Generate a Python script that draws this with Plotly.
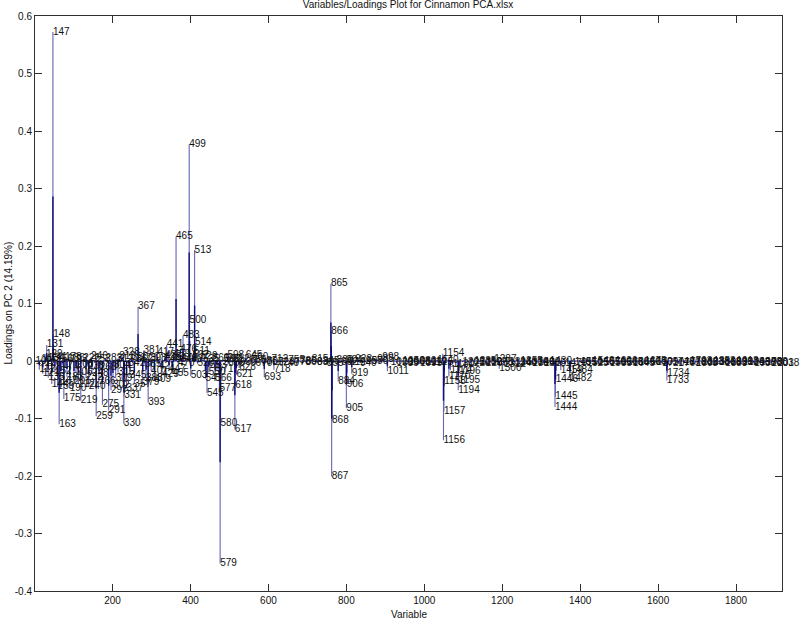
import plotly.graph_objects as go

# labelled loadings: variable name, position on the x axis, loading on PC 2
peak_var = [112, 121, 129, 131, 134, 135, 144, 147, 148, 152,
            159, 163, 167, 175, 178, 183, 190, 201, 206, 212,
            219, 232, 240, 248, 259, 266, 275, 291, 297, 302,
            309, 315, 328, 330, 331, 337, 345, 357, 367, 373,
            379, 381, 388, 393, 401, 409, 417, 429, 437, 441,
            447, 455, 459, 465, 476, 483, 499, 500, 503, 507,
            511, 513, 514, 529, 541, 545, 550, 566, 571, 577,
            579, 580, 592, 598, 617, 618, 621, 628, 645, 660,
            693, 718, 865, 866, 867, 868, 884, 904, 905, 906,
            919, 998, 1011, 1154, 1156, 1157, 1158, 1170, 1174, 1194,
            1195, 1196, 1287, 1300, 1444, 1445, 1446, 1459, 1482, 1484,
            1733, 1734, 2018]
peak_x = [12, 21, 29, 31, 34, 35, 44, 47, 48, 52,
          59, 63, 67, 75, 78, 83, 90, 101, 106, 112,
          118.5, 132, 139, 147, 158, 165, 174, 190, 196, 201,
          208, 214, 227, 229, 230, 236, 244, 256, 265.5, 271.5,
          277.5, 279.5, 286, 291.4, 299, 307.3, 315.2, 327.1, 335, 339.1,
          345, 353, 357, 363, 374, 380.8, 396.7, 397.7, 400.7, 405,
          408.6, 410.6, 411.6, 426.5, 438.4, 442.4, 447, 463.2, 468, 474.2,
          476.1, 477.1, 489.1, 495, 513.9, 514.9, 517.9, 525, 541.7, 557,
          589.4, 614.2, 760.3, 761.3, 762.3, 763.3, 779.1, 799, 800, 801,
          813.9, 892.4, 905.3, 1047.4, 1049.3, 1050.3, 1051.3, 1063.2, 1067.2, 1087.1,
          1088.1, 1089.1, 1179.5, 1192.4, 1335.4, 1336.4, 1337.4, 1350.3, 1373.2, 1375.2,
          1622.5, 1623.5, 1905.6]
peak_load = [-0.015, -0.022, 0.012, 0.028, 0.004, -0.029, -0.040, 0.572, 0.046, -0.018,
             -0.045, -0.110, -0.035, -0.066, 0.006, -0.028, -0.048, -0.035, -0.020, -0.040,
             -0.069, -0.029, -0.045, -0.022, -0.096, -0.035, -0.076, -0.086, -0.051, -0.042,
             -0.030, -0.020, 0.014, -0.109, -0.060, -0.048, -0.025, -0.040, 0.094, 0.004,
             -0.037, 0.018, -0.030, -0.072, -0.018, -0.033, 0.014, -0.024, 0.010, 0.028,
             -0.015, -0.022, 0.012, 0.216, 0.020, 0.044, 0.377, 0.070, -0.026, 0.010,
             0.016, 0.193, 0.032, 0.008, -0.031, -0.056, -0.020, -0.030, -0.015, -0.048,
             -0.352, -0.109, 0.003, 0.010, -0.119, -0.042, -0.024, -0.012, 0.009, 0.006,
             -0.028, -0.015, 0.134, 0.052, -0.201, -0.103, -0.035, 0.001, -0.082, -0.041,
             -0.022, 0.006, -0.018, 0.0125, -0.138, -0.088, -0.035, -0.027, -0.016, -0.051,
             -0.034, -0.018, 0.002, -0.0135, -0.080, -0.062, -0.033, -0.016, -0.030, -0.017,
             -0.034, -0.021, -0.004]

# near-zero variables whose labels pile up along the baseline
band_var = [102, 117, 126, 141, 156, 171, 186, 193, 208, 226,
            238, 246, 253, 268, 283, 304, 312, 318, 342, 350,
            362, 385, 398, 421, 436, 448, 470, 478, 490, 520,
            535, 553, 560, 588, 600, 612, 630, 655, 670, 685,
            700, 712, 728, 740, 755, 770, 785, 800, 815, 830,
            845, 855, 880, 892, 912, 928, 940, 955, 970, 985,
            1020, 1035, 1050, 1065, 1080, 1095, 1110, 1125, 1140, 1180,
            1205, 1220, 1235, 1250, 1265, 1278, 1312, 1326, 1340, 1355,
            1370, 1385, 1400, 1415, 1430, 1470, 1495, 1510, 1525, 1540,
            1555, 1570, 1585, 1600, 1615, 1630, 1645, 1660, 1675, 1690,
            1705, 1720, 1748, 1763, 1778, 1793, 1808, 1823, 1838, 1853,
            1868, 1883, 1898, 1913, 1928, 1943, 1958, 1973, 1988, 2003]
band_x = [2, 17, 26, 41, 56, 71, 86, 93, 108, 125,
          137, 145, 152, 167, 182, 203, 211, 217, 241, 249,
          261, 283, 296, 319, 334, 346, 368, 376, 388, 418,
          432, 450, 457, 485, 497, 509, 527, 552, 567, 581,
          596, 608, 624, 636, 651, 666, 681, 696, 711, 725,
          740, 750, 775, 787, 807, 823, 835, 850, 865, 879,
          914, 929, 944, 959, 974, 989, 1004, 1019, 1033, 1073,
          1098, 1113, 1128, 1143, 1158, 1171, 1204, 1218, 1232, 1247,
          1262, 1277, 1292, 1307, 1322, 1361, 1386, 1401, 1416, 1431,
          1446, 1461, 1476, 1490, 1505, 1520, 1535, 1550, 1565, 1580,
          1595, 1610, 1637, 1652, 1667, 1682, 1697, 1712, 1727, 1742,
          1757, 1772, 1786, 1801, 1816, 1831, 1846, 1861, 1876, 1891]
band_load = [0.000, 0.003, -0.004, 0.006, 0.002, -0.008, 0.005, 0.003, -0.006, 0.004,
             -0.010, 0.007, 0.002, -0.012, 0.005, -0.007, 0.003, 0.008, -0.005, 0.006,
             0.002, -0.006, 0.004, -0.009, 0.006, 0.003, -0.004, 0.005, 0.002, -0.005,
             0.003, -0.008, 0.004, 0.002, -0.005, 0.003, -0.002, 0.001, -0.004, 0.000,
             -0.003, 0.002, -0.002, -0.004, 0.001, -0.003, 0.000, -0.002, 0.002, -0.003,
             -0.001, -0.004, 0.001, -0.002, -0.003, 0.002, -0.004, -0.001, 0.000, 0.003,
             -0.002, -0.004, -0.001, -0.003, 0.000, -0.005, -0.002, -0.003, 0.001, -0.006,
             -0.002, -0.004, -0.001, -0.003, -0.005, -0.002, -0.006, -0.003, -0.004, -0.001,
             -0.003, -0.005, -0.002, -0.004, -0.001, -0.005, -0.003, -0.002, -0.004, -0.001,
             -0.003, -0.002, -0.004, -0.001, -0.003, -0.002, -0.004, -0.003, -0.001, -0.002,
             -0.003, -0.004, -0.002, -0.005, -0.003, -0.001, -0.004, -0.002, -0.003, -0.001,
             -0.002, -0.004, -0.003, -0.001, -0.003, -0.002, -0.004, -0.002, -0.003, -0.004]

x_first, x_last = 1, 1918
x_ticks = [200, 400, 600, 800, 1000, 1200, 1400, 1600, 1800]
y_ticks = [-0.4, -0.3, -0.2, -0.1, 0, 0.1, 0.2, 0.3, 0.4, 0.5, 0.6]
y_tick_text = ["-0.4", "-0.3", "-0.2", "-0.1", "0", "0.1", "0.2", "0.3", "0.4", "0.5", "0.6"]

all_var = peak_var + band_var
all_x = peak_x + band_x
all_load = peak_load + band_load

# stems from zero; the lower half is drawn darker, like the doubled stroke in the original
stem_x, stem_y, half_y = [], [], []
for x, v in zip(all_x, all_load):
    stem_x += [x, x, None]
    stem_y += [0, v, None]
    half_y += [0, v / 2, None]

FONT = "Liberation Sans"

fig = go.Figure()
fig.add_trace(go.Scatter(x=stem_x, y=stem_y, mode="lines",
                         line=dict(color="#6464b8", width=1.1), hoverinfo="skip"))
fig.add_trace(go.Scatter(x=stem_x, y=half_y, mode="lines",
                         line=dict(color="#10107a", width=1.4), hoverinfo="skip"))
fig.add_trace(go.Scatter(x=[x_first, x_last], y=[0, 0], mode="lines",
                         line=dict(color="#1a1a85", width=1.2), hoverinfo="skip"))
fig.add_trace(go.Scatter(x=all_x, y=all_load, mode="text",
                         text=[str(v) for v in all_var], textposition="middle right",
                         textfont=dict(size=10, color="#111111", family=FONT),
                         cliponaxis=False))

axis_style = dict(showline=True, linecolor="#303030", linewidth=1, mirror="ticks",
                  ticks="inside", ticklen=7, tickcolor="#303030", showgrid=False,
                  zeroline=False, automargin=False,
                  tickfont=dict(size=10, color="#111111", family=FONT))

fig.update_layout(
    template="none",
    width=800, height=621,
    margin=dict(l=35, r=18, t=16, b=30, autoexpand=False),
    paper_bgcolor="white", plot_bgcolor="white",
    showlegend=False,
    title=dict(text="Variables/Loadings Plot for Cinnamon PCA.xlsx",
               font=dict(size=10, color="#111111", family=FONT),
               x=0.51, xanchor="center", yref="container", y=0.992, yanchor="middle"),
    xaxis=dict(range=[x_first, x_last], tickvals=x_ticks, **axis_style),
    yaxis=dict(range=[-0.4, 0.6], tickvals=y_ticks, ticktext=y_tick_text, **axis_style),
    annotations=[
        dict(text="Variable", xref="paper", yref="paper", x=0.5, y=-0.04,
             xanchor="center", yanchor="middle", showarrow=False,
             font=dict(size=10, color="#111111", family=FONT)),
        dict(text="Loadings on PC 2 (14.19%)", xref="paper", yref="paper",
             x=-0.036, y=0.5, xanchor="center", yanchor="middle", textangle=-90,
             showarrow=False, font=dict(size=10, color="#111111", family=FONT)),
    ],
)

# the page's default body margin would shift the figure by 8 px
fig.write_html("out.html", config={"displayModeBar": False},
               post_script="document.body.style.margin = '0px';")
